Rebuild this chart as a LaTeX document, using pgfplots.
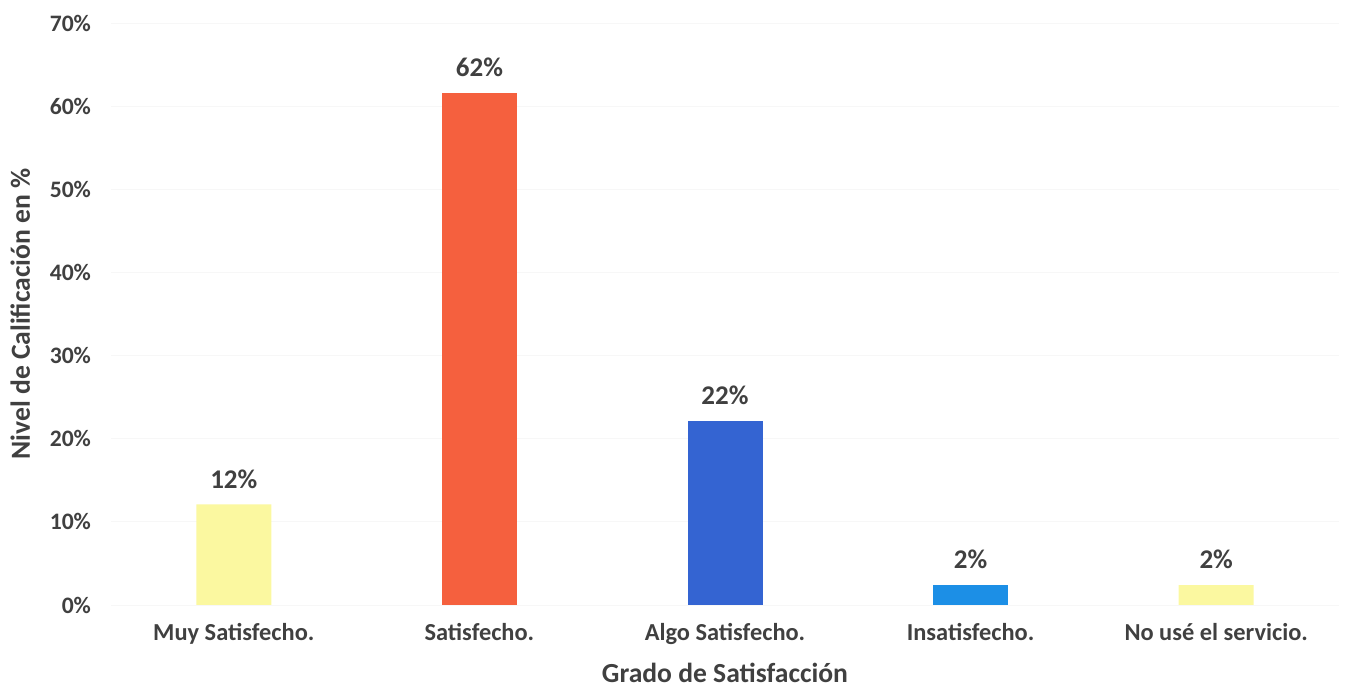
\documentclass[border=0pt]{standalone}
\usepackage{pgfplots}
\pgfplotsset{compat=1.18}
\usepackage{fontspec}
\setmainfont{Carlito}
\usetikzlibrary{calc}
\definecolor{txt}{HTML}{404040}
\definecolor{cyel}{HTML}{FBF8A0}
\definecolor{cred}{HTML}{F5603E}
\definecolor{cblu}{HTML}{3464D2}
\definecolor{clbl}{HTML}{1C8FE6}
\begin{document}
\begin{tikzpicture}
\fontsize{11.5pt}{13pt}\selectfont
\begin{axis}[
    name=ax,
    scale only axis,
    width=614pt, height=291pt,
    ybar, bar width=37.5pt,
    xmin=-0.5, xmax=4.5,
    ymin=0, ymax=70,
    xtick={0,1,2,3,4},
    xticklabels={Muy Satisfecho., Satisfecho., Algo Satisfecho., Insatisfecho., No usé el servicio.},
    ytick={0,10,...,70},
    yticklabel={\pgfmathprintnumber{\tick}\%},
    axis line style={draw=none},
    major tick length=0pt,
    ymajorgrids, grid style={gray!6},
    tick label style={font=\fontsize{11.8pt}{13pt}\selectfont\bfseries, text=txt},
    /pgf/number format/assume math mode=true,
    yticklabel style={xshift=-6pt},
    xticklabel style={yshift=-5pt, font=\fontsize{12.2pt}{14pt}\selectfont\bfseries},
    xlabel={Grado de Satisfacción},
    ylabel={Nivel de Calificación en \%},
    label style={font=\fontsize{13.8pt}{16pt}\selectfont\bfseries, text=txt},
    xlabel style={yshift=-1.5pt},
    ylabel style={yshift=2pt},
    nodes near coords={\pgfmathprintnumber[fixed,precision=0]{\pgfplotspointmeta}\%},
    nodes near coords style={font=\fontsize{13.5pt}{15pt}\selectfont\bfseries, text=txt, yshift=4pt},
    every axis plot/.append style={draw=none},
]
\addplot+[fill=cyel, bar shift=0pt] coordinates {(0,12.1) (4,2.4)};
\addplot+[fill=cred, bar shift=0pt] coordinates {(1,61.6)};
\addplot+[fill=cblu, bar shift=0pt] coordinates {(2,22.1)};
\addplot+[fill=clbl, bar shift=0pt] coordinates {(3,2.4)};
\end{axis}
\pgfresetboundingbox
\path ($(ax.south west)+(-55.5pt,-43.5pt)$) rectangle ($(ax.north east)+(10pt,11.5pt)$);
\end{tikzpicture}
\end{document}
